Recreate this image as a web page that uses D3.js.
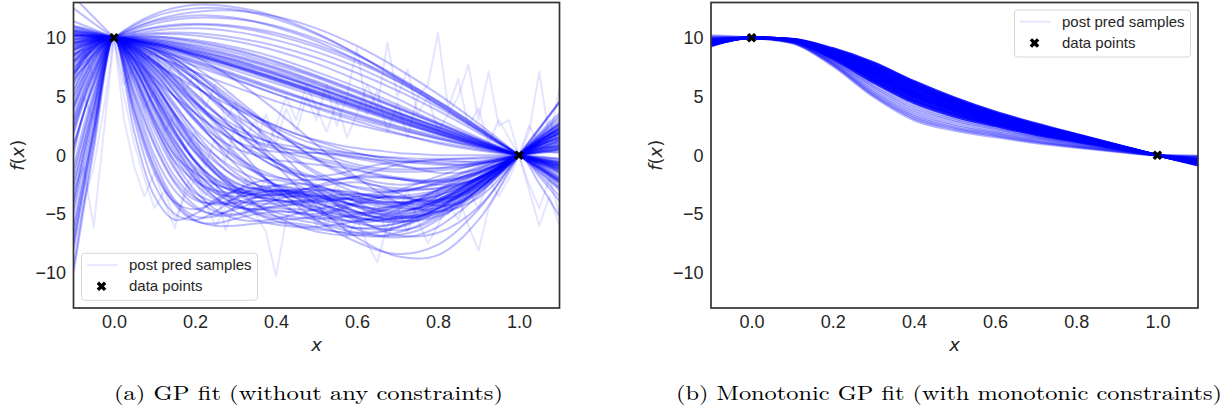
<!DOCTYPE html>
<html><head><meta charset="utf-8">
<script src="https://cdn.jsdelivr.net/npm/d3@7"></script>
<style>body{margin:0;background:#fff}svg{display:block}</style>
</head><body>
<svg id="chart" width="1230" height="419"></svg>
<script>
// ---------- data ----------
const xsCoarse = [-0.1, 0, 0.1, 0.2, 0.3, 0.4, 0.5, 0.6, 0.7, 0.8, 0.9, 1.0, 1.1];
const xsMid = [-0.1, -0.05, 0, 0.05, 0.1, 0.15, 0.2, 0.25, 0.3, 0.35, 0.4, 0.45, 0.5, 0.55, 0.6, 0.65, 0.7, 0.75, 0.8, 0.85, 0.9, 0.95, 1.0, 1.05, 1.1];
const xsFine = [-0.1, -0.075, -0.05, -0.025, 0, 0.025, 0.05, 0.075, 0.1, 0.125, 0.15, 0.175, 0.2, 0.225, 0.25, 0.275, 0.3, 0.325, 0.35, 0.375, 0.4, 0.425, 0.45, 0.475, 0.5, 0.525, 0.55, 0.575, 0.6, 0.625, 0.65, 0.675, 0.7, 0.725, 0.75, 0.775, 0.8, 0.825, 0.85, 0.875, 0.9, 0.925, 0.95, 0.975, 1.0, 1.025, 1.05, 1.075, 1.1];

const dataX = [0, 1];
const dataY = [10, 0];

// (a) unconstrained GP posterior samples — long length-scale (on xsCoarse)
const leftSmooth = [
  [10.3, 10, 9.4, 8.5, 7.5, 6.4, 5.3, 4.2, 3.1, 2.0, 1.0, 0, -0.9],
  [10.1, 10, 9.6, 8.9, 8.0, 6.9, 5.8, 4.6, 3.4, 2.2, 1.1, 0, -1.0],
  [10.5, 10, 9.3, 8.3, 7.2, 6.1, 5.0, 3.9, 2.8, 1.8, 0.9, 0, -0.8],
  [9.8, 10, 9.8, 9.3, 8.5, 7.5, 6.3, 5.0, 3.7, 2.4, 1.2, 0, -1.1],
  [10.2, 10, 9.5, 8.7, 7.7, 6.6, 5.4, 4.2, 3.0, 1.9, 0.9, 0, -0.7],
  [10.6, 10, 9.2, 8.1, 6.9, 5.7, 4.5, 3.4, 2.4, 1.5, 0.7, 0, -0.6],
  [9.6, 10, 10.0, 9.6, 8.9, 7.9, 6.7, 5.4, 4.0, 2.6, 1.3, 0, -1.2],
  [10.4, 10, 9.4, 8.6, 7.6, 6.5, 5.4, 4.3, 3.2, 2.1, 1.0, 0, -0.9],
  [10.0, 10, 9.7, 9.1, 8.3, 7.3, 6.1, 4.9, 3.6, 2.4, 1.2, 0, -1.1],
  [10.8, 10, 9.0, 7.9, 6.7, 5.5, 4.4, 3.3, 2.3, 1.4, 0.6, 0, -0.5],
  [10.2, 10, 9.5, 8.8, 7.9, 6.9, 5.7, 4.5, 3.3, 2.1, 1.0, 0, -0.9],
  [9.9, 10, 9.8, 9.2, 8.4, 7.4, 6.2, 4.9, 3.6, 2.3, 1.1, 0, -1.0],
  [10.3, 10, 9.4, 8.5, 7.5, 6.4, 5.2, 4.0, 2.9, 1.8, 0.8, 0, -0.6],
  [10.1, 10, 9.6, 8.9, 8.1, 7.1, 6.0, 4.8, 3.6, 2.4, 1.2, 0, -1.3],
  [10.7, 10, 9.1, 8.0, 6.8, 5.6, 4.5, 3.5, 2.5, 1.6, 0.8, 0, -0.7],
  [9.7, 10, 9.9, 9.4, 8.7, 7.7, 6.6, 5.3, 4.0, 2.7, 1.3, 0, -1.3],
  [10.4, 10, 9.5, 8.7, 7.8, 6.8, 5.7, 4.5, 3.3, 2.1, 1.0, 0, -0.9],
  [10.6, 10, 9.3, 8.4, 7.4, 6.3, 5.2, 4.1, 3.0, 1.9, 0.9, 0, -0.8],
  [9.9, 10, 9.7, 9.0, 8.1, 7.0, 5.8, 4.6, 3.4, 2.2, 1.1, 0, -1.1],
  [10.2, 10, 9.5, 8.6, 7.6, 6.5, 5.3, 4.1, 2.9, 1.8, 0.8, 0, -0.7],
  [9.5, 10, 10.1, 9.8, 9.2, 8.3, 7.1, 5.8, 4.3, 2.8, 1.4, 0, -1.4],
  [9.3, 10, 10.3, 10.2, 9.7, 8.9, 7.8, 6.4, 4.8, 3.1, 1.5, 0, -1.5],
  [9.6, 10, 10.1, 9.7, 9.0, 8.0, 6.8, 5.5, 4.1, 2.7, 1.3, 0, -1.2],
  [11.0, 10, 8.8, 7.6, 6.4, 5.2, 4.1, 3.1, 2.2, 1.4, 0.7, 0, -0.6],
  [11.4, 10, 8.5, 7.1, 5.8, 4.6, 3.5, 2.6, 1.8, 1.1, 0.5, 0, -0.4],
  [10.9, 10, 9.0, 7.8, 6.5, 5.2, 4.0, 2.9, 1.9, 1.0, 0.4, 0, -0.3],
  [10.3, 10, 9.4, 8.6, 7.6, 6.6, 5.5, 4.4, 3.2, 2.0, 0.9, 0, -1.6],
  [7.5, 10, 11.5, 12.2, 12.3, 11.8, 10.8, 9.3, 7.4, 5.2, 2.7, 0, -2.8],
  [8.0, 10, 11.2, 11.7, 11.6, 11.0, 9.9, 8.5, 6.7, 4.6, 2.4, 0, -2.4],
  [7.0, 10, 11.8, 12.5, 12.4, 11.6, 10.3, 8.6, 6.6, 4.5, 2.3, 0, -2.2],
  [8.6, 10, 10.8, 11.1, 10.9, 10.2, 9.2, 7.9, 6.3, 4.4, 2.2, 0, -2.0],
  [9.0, 10, 10.6, 10.8, 10.5, 9.8, 8.8, 7.5, 5.9, 4.1, 2.1, 0, -2.1],
  [6.5, 10, 12.0, 12.8, 12.6, 11.8, 10.4, 8.6, 6.5, 4.3, 2.1, 0, -2.2],
  [8.4, 10, 10.9, 11.2, 11.0, 10.4, 9.4, 8.1, 6.5, 4.6, 2.4, 0, -2.3],
  [9.2, 10, 10.4, 10.4, 10.0, 9.3, 8.3, 7.0, 5.5, 3.8, 1.9, 0, -1.8],
  [7.8, 10, 11.4, 11.9, 11.7, 10.9, 9.7, 8.1, 6.3, 4.3, 2.2, 0, -2.1],
  [8.0, 10, 8.0, 4.5, 0.8, -2.8, -5.5, -7.4, -8.4, -7.6, -4.6, 0, 3.6],
  [9.0, 10, 9.0, 6.5, 3.0, -0.8, -4.3, -7.0, -8.6, -8.5, -5.5, 0, 4.5],
  [5.0, 10, 6.0, 1.0, -2.8, -5.2, -6.5, -6.8, -6.2, -4.8, -2.6, 0, 2.2],
  [8.6, 10, 9.2, 7.0, 4.0, 0.6, -2.8, -5.4, -6.8, -6.6, -4.4, 0, 4.5],
  [6.2, 10, 7.4, 3.2, -0.8, -3.8, -5.6, -6.2, -5.8, -4.5, -2.4, 0, 2.4],
  [9.4, 10, 9.6, 8.4, 6.4, 3.8, 0.9, -1.9, -4.0, -4.8, -3.6, 0, 4.6],
  [4.0, 10, 5.0, -0.5, -4.0, -5.4, -5.2, -4.2, -3.2, -2.4, -1.4, 0, 1.6],
  [8.2, 10, 8.6, 6.0, 2.8, -0.3, -3.0, -4.8, -5.6, -5.2, -3.2, 0, 3.4],
  [13.5, 10, 6.5, 3.6, 1.2, -0.6, -1.9, -2.7, -3.0, -2.8, -2.0, 0, 2.5],
  [12.5, 10, 7.8, 5.8, 4.0, 2.5, 1.2, 0.2, -0.5, -0.8, -0.7, 0, 1.2]
];

// (a) medium length-scale samples (on xsMid)
const leftMid = [
  [4, 8, 10, 8.5, 6, 3.5, 1.5, 0, -1.2, -2, -2.5, -2.8, -3, -3.3, -3.5, -3.4, -3, -2.4, -1.8, -1.2, -0.7, -0.3, 0, 0.4, 0.9],
  [-2, 5, 10, 7, 3, 0, -1.5, -2.5, -3, -3.5, -4.2, -4.8, -5, -4.6, -4, -3.6, -3.5, -3.8, -4, -3.6, -2.8, -1.5, 0, -1.6, -3.5],
  [6, 9, 10, 9, 7.2, 5, 3, 1.2, -0.3, -1.5, -2.5, -3.3, -4, -4.6, -5, -5.3, -5.4, -5.2, -4.6, -3.6, -2.4, -1.1, 0, 0.8, 1.3],
  [1, 6, 10, 6.5, 2.5, -0.5, -2.2, -3, -3.2, -3, -2.6, -2.4, -2.6, -3.2, -4, -4.7, -5, -4.8, -4, -3, -1.8, -0.8, 0, 0.3, 0.2],
  [8, 9.6, 10, 9.2, 7.8, 6, 4, 2, 0.2, -1.3, -2.6, -3.7, -4.6, -5.3, -5.8, -6, -5.8, -5.3, -4.5, -3.5, -2.4, -1.2, 0, 1, 1.8],
  [-5, 3, 10, 5, 0, -3, -4.5, -5, -4.6, -4, -3.8, -4.1, -4.7, -5.2, -5.2, -4.8, -4.3, -4, -3.8, -3.4, -2.6, -1.4, 0, 1.4, 2.6],
  [7, 9.3, 10, 8, 5.2, 2.5, 0.3, -1.4, -2.6, -3.4, -3.8, -4, -4, -3.8, -3.5, -3.2, -3, -2.9, -2.8, -2.5, -1.9, -1, 0, 0.9, 1.5],
  [3, 7.5, 10, 8, 4.8, 1.8, -0.5, -2.1, -3, -3.4, -3.4, -3.2, -3, -3, -3.2, -3.6, -4, -4.2, -4, -3.4, -2.4, -1.2, 0, -0.9, -2.3],
  [9, 9.8, 10, 9.5, 8.6, 7.4, 6, 4.6, 3.2, 1.9, 0.6, -0.5, -1.6, -2.5, -3.2, -3.6, -3.7, -3.5, -3, -2.3, -1.5, -0.7, 0, 0.5, 0.8],
  [-8, 2, 10, 3, -2.5, -5, -5.5, -4.8, -3.6, -2.8, -2.6, -3, -3.8, -4.6, -5.2, -5.5, -5.4, -5, -4.3, -3.4, -2.4, -1.2, 0, 1.1, 1.8],
  [5, 8.6, 10, 8.8, 6.6, 4.2, 2.2, 0.6, -0.6, -1.4, -1.9, -2.1, -2.1, -2, -1.9, -1.9, -2, -2.2, -2.3, -2.1, -1.6, -0.9, 0, 0.9, 1.7],
  [2, 7, 10, 7.6, 4, 0.8, -1.6, -3.2, -4.2, -4.8, -5.2, -5.5, -5.8, -6.2, -6.6, -6.9, -7, -6.8, -6.1, -4.9, -3.4, -1.7, 0, 1.5, 2.6],
  [8.5, 9.7, 10, 9.4, 8.3, 6.9, 5.3, 3.7, 2.1, 0.7, -0.6, -1.7, -2.7, -3.6, -4.4, -5, -5.3, -5.3, -4.9, -4.1, -3, -1.6, 0, 1.6, 3],
  [-1, 5.5, 10, 6.8, 2.6, -1, -3.5, -4.8, -5, -4.5, -3.8, -3.4, -3.5, -4.1, -4.8, -5.3, -5.4, -5, -4.2, -3.2, -2.1, -1, 0, -1.2, -2.8],
  [6.5, 9.1, 10, 8.9, 6.8, 4.4, 2, 0, -1.5, -2.5, -3, -3, -2.7, -2.4, -2.3, -2.6, -3.2, -3.9, -4.3, -4.1, -3.2, -1.7, 0, 1.7, 3.2],
  [-6, 2.5, 10, 4, -1, -4, -5.5, -6, -6, -5.8, -5.7, -5.8, -6.1, -6.5, -6.8, -6.9, -6.6, -6, -5.1, -3.9, -2.6, -1.3, 0, 1.2, 2.2],
  [9.5, 10, 10, 9.7, 9.1, 8.2, 7.1, 5.9, 4.6, 3.3, 2, 0.8, -0.3, -1.2, -1.9, -2.3, -2.5, -2.4, -2.1, -1.6, -1, -0.5, 0, 0.4, 0.6],
  [4.5, 8.4, 10, 8.3, 5.6, 2.8, 0.4, -1.5, -2.7, -3.3, -3.4, -3.1, -2.6, -2.1, -1.8, -1.8, -2, -2.3, -2.5, -2.4, -1.9, -1.1, 0, 1.2, 2.3],
  [7.6, 9.5, 10, 9.1, 7.5, 5.6, 3.6, 1.7, 0, -1.4, -2.6, -3.6, -4.4, -5, -5.4, -5.5, -5.3, -4.8, -4, -3, -2, -1, 0, -0.8, -1.9],
  [0, 6.5, 10, 7.2, 3.5, 0.2, -2, -3.2, -3.5, -3.3, -3, -3, -3.3, -3.8, -4.3, -4.5, -4.3, -3.7, -2.9, -2, -1.2, -0.5, 0, 0.2, 0.3],
  [10.5, 10.3, 10, 9.2, 7.9, 6.3, 4.6, 2.9, 1.3, 0, -1, -1.6, -1.8, -1.6, -1.2, -0.8, -0.6, -0.6, -0.7, -0.8, -0.7, -0.4, 0, 0.6, 1.3],
  [11, 10.6, 10, 9.1, 8, 6.7, 5.2, 3.6, 2, 0.6, -0.6, -1.5, -2, -2.1, -1.8, -1.3, -0.8, -0.5, -0.4, -0.5, -0.6, -0.5, 0, 0.8, 1.9],
  [-4, 4, 10, 6, 1.5, -1.8, -3.6, -4.2, -4, -3.6, -3.4, -3.6, -4.1, -4.6, -4.9, -4.8, -4.4, -3.8, -3.2, -2.6, -1.9, -1, 0, 0.9, 1.4],
  [3.5, 7.8, 10, 7.8, 4.6, 1.4, -1.2, -3, -4.2, -5, -5.6, -6, -6.1, -5.9, -5.6, -5.3, -5.2, -5.1, -4.8, -4.1, -3, -1.6, 0, 1.3, 2.2],
  [7.2, 9.4, 10, 8.6, 6.2, 3.4, 0.8, -1.2, -2.4, -2.9, -3, -2.9, -2.9, -3.1, -3.5, -4, -4.3, -4.3, -3.9, -3.1, -2.1, -1, 0, 0.6, 0.7],
  [-7, 2, 10, 4.5, -0.5, -3.8, -5.2, -5.2, -4.4, -3.6, -3.2, -3.4, -4, -4.8, -5.6, -6.2, -6.4, -6.1, -5.3, -4.2, -2.9, -1.5, 0, 1.3, 2],
  [9.2, 9.9, 10, 9.6, 8.9, 7.9, 6.7, 5.3, 3.9, 2.4, 1, -0.3, -1.4, -2.2, -2.8, -3.1, -3.1, -2.8, -2.3, -1.7, -1.1, -0.5, 0, 0.3, 0.4],
  [2.5, 7.2, 10, 8.2, 5.2, 2.1, -0.4, -2.2, -3.2, -3.6, -3.6, -3.5, -3.6, -3.9, -4.4, -4.9, -5.2, -5.2, -4.8, -4, -2.9, -1.5, 0, 1.5, 2.8],
  [5.5, 8.8, 10, 8.6, 6.1, 3.3, 0.8, -1.1, -2.3, -2.9, -3.1, -3.2, -3.4, -3.8, -4.3, -4.7, -4.8, -4.5, -3.8, -2.9, -1.9, -0.9, 0, 0.7, 1.1],
  [-3, 4.5, 10, 6.2, 2.1, -1.2, -3.2, -4, -4.1, -3.9, -3.9, -4.2, -4.8, -5.6, -6.3, -6.8, -6.8, -6.4, -5.5, -4.3, -2.9, -1.4, 0, -1, -2.6],
  [8.8, 9.7, 10, 9.3, 8.1, 6.5, 4.7, 2.9, 1.3, 0, -1, -1.8, -2.5, -3.1, -3.6, -3.9, -4, -3.8, -3.4, -2.8, -2, -1, 0, 1, 1.9],
  [6.8, 9.2, 10, 8.7, 6.5, 4, 1.6, -0.4, -1.9, -2.8, -3.3, -3.5, -3.5, -3.4, -3.3, -3.4, -3.6, -3.8, -3.8, -3.4, -2.6, -1.4, 0, 1.4, 2.7],
  [0.5, 6.2, 10, 7.4, 3.8, 0.5, -2, -3.6, -4.4, -4.6, -4.4, -4.1, -3.8, -3.7, -3.8, -4.1, -4.4, -4.6, -4.5, -3.9, -2.8, -1.5, 0, -0.4, -1.5],
  [9.8, 10.1, 10, 9.8, 9.3, 8.5, 7.5, 6.3, 4.9, 3.5, 2.1, 0.8, -0.4, -1.4, -2.1, -2.6, -2.8, -2.8, -2.5, -2, -1.4, -0.7, 0, 0.6, 1],
  [-9.5, 1, 10, 3.5, -1.5, -4, -4.6, -4, -3, -2.3, -2.1, -2.5, -3.3, -4.2, -4.9, -5.2, -5, -4.4, -3.5, -2.5, -1.6, -0.8, 0, 0.6, 0.8],
  [4.2, 8.2, 10, 8.4, 5.8, 3.1, 0.6, -1.5, -3.1, -4.2, -4.9, -5.3, -5.4, -5.3, -5, -4.6, -4.2, -3.8, -3.4, -2.9, -2.1, -1.1, 0, 1.2, 2.4],
  [9.6, 10, 10, 9.4, 8.4, 7.2, 5.9, 4.6, 3.4, 2.4, 1.6, 1, 0.5, 0.1, -0.2, -0.4, -0.5, -0.5, -0.4, -0.3, -0.2, -0.1, 0, 0.2, 0.5],
  [8.4, 9.6, 10, 9, 7.5, 5.8, 4.2, 2.9, 1.9, 1.2, 0.7, 0.4, 0.2, 0, -0.3, -0.6, -0.9, -1.1, -1.1, -1, -0.8, -0.4, 0, 0.5, 1],
  [9.1, 9.8, 10, 9.3, 8, 6.5, 5, 3.6, 2.5, 1.6, 0.9, 0.3, -0.2, -0.6, -1, -1.3, -1.4, -1.4, -1.3, -1.1, -0.8, -0.4, 0, 0.4, 0.7],
  [7.9, 9.5, 10, 9.2, 7.8, 6.1, 4.5, 3.2, 2.2, 1.5, 1, 0.7, 0.5, 0.3, 0.1, -0.1, -0.3, -0.5, -0.6, -0.6, -0.5, -0.3, 0, 0.3, 0.5],
  [10.2, 10.2, 10, 9.6, 9, 8.1, 7, 5.7, 4.4, 3.3, 2.3, 1.5, 0.9, 0.4, 0.1, -0.1, -0.2, -0.3, -0.3, -0.3, -0.3, -0.2, 0, 0.3, 0.6],
  [6.8, 9.1, 10, 8.8, 7, 5, 3.1, 1.6, 0.6, 0, -0.4, -0.6, -0.8, -1, -1.3, -1.7, -2, -2.2, -2.2, -2, -1.5, -0.8, 0, 0.8, 1.4],
  [9.4, 9.9, 10, 9.5, 8.7, 7.7, 6.5, 5.3, 4.1, 3, 2, 1.1, 0.3, -0.3, -0.8, -1.1, -1.2, -1.2, -1.1, -0.9, -0.6, -0.3, 0, 0.3, 0.5],
  [8.9, 9.7, 10, 9.1, 7.7, 6, 4.4, 3, 1.9, 1.1, 0.5, 0, -0.4, -0.8, -1.2, -1.6, -1.9, -2.1, -2.1, -1.9, -1.4, -0.8, 0, -0.9, -2],
  [10.6, 10.4, 10, 9.4, 8.6, 7.6, 6.5, 5.4, 4.3, 3.3, 2.5, 1.8, 1.3, 0.9, 0.6, 0.4, 0.2, 0.1, 0, 0, 0, 0, 0, -0.1, -0.3],
  [7.3, 9.3, 10, 9, 7.3, 5.4, 3.6, 2.2, 1.2, 0.6, 0.3, 0.2, 0.2, 0.1, -0.1, -0.4, -0.8, -1.2, -1.5, -1.5, -1.2, -0.7, 0, 0.8, 1.5],
  [-10, 0.5, 10, 2, -3.5, -5.5, -5, -3.8, -3, -2.8, -3.2, -4, -4.8, -5.4, -5.6, -5.3, -4.6, -3.8, -3, -2.2, -1.5, -0.8, 0, 0.7, 1.2],
  [-4.5, 3.5, 10, 5.5, 1, -2.2, -3.8, -4.1, -3.7, -3.2, -3, -3.2, -3.7, -4.3, -4.8, -5, -4.9, -4.5, -3.8, -3, -2.1, -1.1, 0, 1, 1.9],
  [2.5, 7, 10, 7.5, 4, 0.8, -1.8, -3.6, -4.8, -5.5, -5.9, -6.1, -6.3, -6.5, -6.6, -6.5, -6.1, -5.4, -4.5, -3.4, -2.3, -1.1, 0, 1, 2],
  [-1.5, 5, 10, 6.6, 2.8, -0.6, -3, -4.6, -5.4, -5.6, -5.4, -5, -4.6, -4.3, -4.1, -4, -4, -3.9, -3.6, -3.1, -2.3, -1.2, 0, -1.8, -3.9],
  [-7.5, 1.5, 10, 3.8, -1.2, -4.2, -5.6, -5.8, -5.4, -5, -4.8, -4.9, -5.2, -5.5, -5.7, -5.6, -5.2, -4.6, -3.8, -2.9, -1.9, -0.9, 0, 0.5, 0.6],
  [1.8, 6.8, 10, 7.6, 4.2, 1.1, -1.3, -2.9, -3.8, -4.1, -4.1, -3.9, -3.7, -3.6, -3.7, -3.9, -4.1, -4.1, -3.8, -3.2, -2.3, -1.2, 0, -2.4, -5.2],
  [8.5, 9.6, 10, 8.2, 5.5, 2.6, 0.2, -1.6, -2.8, -3.5, -3.8, -3.9, -3.9, -3.8, -3.7, -3.6, -3.5, -3.3, -3, -2.6, -1.9, -1, 0, 1, 2],
  [7, 9.1, 10, 8.9, 7, 4.9, 2.9, 1.2, -0.1, -1.1, -1.8, -2.3, -2.7, -3, -3.3, -3.5, -3.6, -3.5, -3.2, -2.7, -2, -1.1, 0, 1.1, 2.1],
  [5.5, 8.6, 10, 8.1, 5.1, 2, -0.6, -2.5, -3.7, -4.3, -4.5, -4.6, -4.7, -5, -5.3, -5.6, -5.7, -5.5, -5, -4.1, -2.9, -1.5, 0, 1.4, 2.7],
  [3, 7.4, 10, 8.7, 6.3, 3.6, 1.2, -0.6, -1.8, -2.5, -2.9, -3.2, -3.5, -3.9, -4.3, -4.6, -4.7, -4.5, -4, -3.2, -2.2, -1.1, 0, -1.4, -3],
  [0.8, 6, 10, 7.9, 4.8, 1.8, -0.5, -2, -2.8, -3.1, -3.1, -3.1, -3.2, -3.5, -3.9, -4.3, -4.5, -4.5, -4.2, -3.6, -2.7, -1.4, 0, 1.3, 2.3],
  [-2.5, 4.2, 10, 6.8, 3.1, -0.1, -2.4, -3.8, -4.4, -4.6, -4.7, -4.9, -5.3, -5.8, -6.2, -6.3, -6.1, -5.5, -4.6, -3.6, -2.5, -1.3, 0, 1.1, 1.9],
  [-3.8, 3.8, 10, 7.4, 4.2, 1.2, -1, -2.4, -3.1, -3.3, -3.3, -3.3, -3.4, -3.6, -3.9, -4.1, -4.1, -3.9, -3.4, -2.8, -2, -1, 0, 0.9, 1.6],
  [-6.5, 2.2, 10, 5.2, 0.8, -2.4, -4.3, -5.1, -5.1, -4.7, -4.3, -4.2, -4.4, -4.8, -5.3, -5.6, -5.6, -5.2, -4.4, -3.4, -2.3, -1.2, 0, 1.2, 2.2]
];

// (a) short length-scale, jagged samples (on xsFine)
const leftSpiky = [
  [2, 5, 3, 7, 10, 6, 7.5, 4, 5.5, 2, 3.5, 0.5, 2, -1, 1.5, -0.5, 2.5, 0, 1, 3.5, 1, 4, 2, 5, 3, 6, 2.5, 5, 9.2, 3.5, 5.5, 2, 4.5, 1.5, 5, 6, 10.4, 4, 6.5, 2.5, 4, 1, 3, 1.5, 0, 2.5, 1, 3, 0.5],
  [6, 9, 6.5, 8.5, 10, 8.5, 10.5, 8, 9, 6.5, 8, 5.5, 7, 4, 6, 3, 4.5, 1.5, 3, 0.5, 2.5, 5, 3, 6, 4, 2, 4.5, 1.5, 3.5, 6, 4, 9.6, 5, 7.3, 3.5, 5, 2, 3.5, 5, 7.7, 3, 7.1, 2.5, 3, 0, 2, 7.1, 1.5, 5.7],
  [-3, -1, -6.1, 2, 10, 3, -1, -3.5, -1.5, -4, -6.2, -3, -1, -3.5, -2, -6.4, -4, -2, -5, -6.5, -10.3, -5.5, -3, -5, -3.5, -6, -4, -7, -5.5, -7.5, -9.1, -6, -4.5, -6.5, -4, -5.5, -3, -5, -3.5, -6, -8.1, -4.5, -3, -1.5, 0, -2.5, -4.5, -2, -5],
  [-8, -4, -1, 4, 10, 5, 1, -2, -4.5, -3, -5.5, -3.5, -2, -4, -6, -4.5, -3, -5, -3.5, -2, -4, -2.5, -5, -3.5, -6, -4, -2.5, -4.5, -3, -5.5, -4, -7, -5, -3, -5.5, -7.5, -6, -4, -5.5, -3, -4.5, -2, -3.5, -2, 0, -3, -6, -3.5, -6]
];

// (b) monotonic GP posterior samples (on xsCoarse): main band
const rightSamples = [
  [9.3, 10, 9.9, 9.1, 7.9, 6.3, 4.9, 3.7, 2.7, 1.8, 0.9, 0, -0.85],
  [9.35, 10, 9.88, 9.0, 7.8, 6.2, 4.8, 3.6, 2.6, 1.75, 0.88, 0, -0.8],
  [9.38, 10, 9.87, 8.98, 7.7, 6.1, 4.72, 3.55, 2.58, 1.72, 0.86, 0, -0.77],
  [9.4, 10, 9.86, 8.95, 7.6, 6.0, 4.65, 3.5, 2.55, 1.7, 0.85, 0, -0.75],
  [9.42, 10, 9.86, 8.9, 7.5, 5.92, 4.58, 3.45, 2.5, 1.68, 0.84, 0, -0.72],
  [9.45, 10, 9.85, 8.85, 7.45, 5.85, 4.5, 3.4, 2.45, 1.65, 0.82, 0, -0.7],
  [9.48, 10, 9.84, 8.82, 7.38, 5.78, 4.45, 3.35, 2.42, 1.62, 0.81, 0, -0.68],
  [9.5, 10, 9.83, 8.8, 7.3, 5.7, 4.4, 3.3, 2.4, 1.6, 0.8, 0, -0.66],
  [9.52, 10, 9.83, 8.75, 7.22, 5.6, 4.32, 3.25, 2.35, 1.57, 0.79, 0, -0.64],
  [9.55, 10, 9.82, 8.7, 7.15, 5.5, 4.25, 3.2, 2.3, 1.55, 0.78, 0, -0.62],
  [9.58, 10, 9.81, 8.65, 7.08, 5.42, 4.18, 3.15, 2.25, 1.5, 0.76, 0, -0.6],
  [9.6, 10, 9.8, 8.6, 7.0, 5.35, 4.1, 3.1, 2.2, 1.48, 0.75, 0, -0.58],
  [9.62, 10, 9.79, 8.62, 6.95, 5.3, 4.05, 3.05, 2.2, 1.45, 0.72, 0, -0.55],
  [9.64, 10, 9.78, 8.55, 6.92, 5.22, 3.98, 3.0, 2.15, 1.43, 0.71, 0, -0.53],
  [9.65, 10, 9.78, 8.5, 6.85, 5.15, 3.9, 2.95, 2.1, 1.4, 0.7, 0, -0.52],
  [9.68, 10, 9.77, 8.48, 6.78, 5.08, 3.85, 2.9, 2.05, 1.38, 0.69, 0, -0.5],
  [9.7, 10, 9.76, 8.45, 6.7, 5.0, 3.8, 2.85, 2.0, 1.35, 0.68, 0, -0.48],
  [9.72, 10, 9.75, 8.4, 6.6, 4.95, 3.75, 2.8, 2.0, 1.33, 0.66, 0, -0.45],
  [9.75, 10, 9.74, 8.35, 6.5, 4.8, 3.6, 2.7, 1.9, 1.28, 0.63, 0, -0.42],
  [9.78, 10, 9.73, 8.32, 6.42, 4.7, 3.52, 2.65, 1.88, 1.25, 0.62, 0, -0.4],
  [9.8, 10, 9.72, 8.3, 6.35, 4.6, 3.45, 2.6, 1.85, 1.22, 0.6, 0, -0.38],
  [9.83, 10, 9.7, 8.2, 6.2, 4.45, 3.3, 2.5, 1.75, 1.15, 0.57, 0, -0.35]
];
// (b) fewer, lower samples (lighter edge of the band)
const rightLower = [
  [9.86, 10, 9.69, 8.1, 6.0, 4.25, 3.15, 2.35, 1.65, 1.08, 0.54, 0, -0.3],
  [9.9, 10, 9.67, 8.05, 5.85, 4.05, 3.0, 2.25, 1.58, 1.02, 0.5, 0, -0.27],
  [9.93, 10, 9.65, 7.95, 5.7, 3.85, 2.85, 2.1, 1.5, 0.95, 0.47, 0, -0.23],
  [9.96, 10, 9.63, 7.9, 5.5, 3.65, 2.65, 1.95, 1.4, 0.88, 0.43, 0, -0.2],
  [10.0, 10, 9.62, 7.8, 5.35, 3.45, 2.5, 1.85, 1.3, 0.8, 0.4, 0, -0.16],
  [10.05, 10, 9.6, 7.75, 5.2, 3.3, 2.35, 1.75, 1.2, 0.75, 0.36, 0, -0.12],
  [10.1, 10, 9.58, 7.7, 5.1, 3.15, 2.25, 1.65, 1.12, 0.7, 0.33, 0, -0.09],
  [10.2, 10, 9.55, 7.6, 5.0, 3.0, 2.1, 1.55, 1.05, 0.65, 0.3, 0, -0.05]
];

const xTicks = [0, 0.2, 0.4, 0.6, 0.8, 1.0];
const xTickLabels = ["0.0", "0.2", "0.4", "0.6", "0.8", "1.0"];
const yTicks = [-10, -5, 0, 5, 10];
const yTickLabels = ["\u221210", "\u22125", "0", "5", "10"];
const legendLabels = ["post pred samples", "data points"];
const captions = ["(a) GP fit (without any constraints)", "(b) Monotonic GP fit (with monotonic constraints)"];

// ---------- drawing ----------
const svg = d3.select("#chart");
const FONT = "'Liberation Sans', Arial, Helvetica, sans-serif";
const TXT = "#262626";
const Y_TOP = 2.5, Y_BOT = 308;

function drawPanel(cfg) {
  const x = d3.scaleLinear().domain([-0.1, 1.1]).range([cfg.left, cfg.right]);
  const y = d3.scaleLinear().domain([-13, 13]).range([Y_BOT, Y_TOP]);
  const g = svg.append("g");
  const clipId = "clip" + cfg.id;
  g.append("clipPath").attr("id", clipId).append("rect")
    .attr("x", cfg.left).attr("y", Y_TOP).attr("width", cfg.right - cfg.left).attr("height", Y_BOT - Y_TOP);
  const lines = g.append("g").attr("clip-path", `url(#${clipId})`);

  cfg.groups.forEach(grp => {
    const gen = d3.line().x(d => x(d[0])).y(d => y(d[1])).curve(grp.curve);
    lines.append("g").selectAll("path").data(grp.series).join("path")
      .attr("d", s => gen(s.map((v, i) => [grp.xs[i], v])))
      .attr("fill", "none").attr("stroke", "#0000ff")
      .attr("stroke-opacity", grp.opacity).attr("stroke-width", grp.width)
      .attr("stroke-linejoin", "round");
  });

  // axes (no tick marks)
  const ax = g.append("g").attr("transform", `translate(0,${Y_BOT})`)
    .call(d3.axisBottom(x).tickValues(xTicks).tickFormat((d, i) => xTickLabels[i]).tickSize(0).tickPadding(7.5));
  const ay = g.append("g").attr("transform", `translate(${cfg.left},0)`)
    .call(d3.axisLeft(y).tickValues(yTicks).tickFormat((d, i) => yTickLabels[i]).tickSize(0).tickPadding(7.5));
  [ax, ay].forEach(a => {
    a.select(".domain").remove();
    a.selectAll("text").attr("font-family", FONT).attr("font-size", 18).attr("fill", TXT);
  });

  // frame
  g.append("rect").attr("x", cfg.left).attr("y", Y_TOP)
    .attr("width", cfg.right - cfg.left).attr("height", Y_BOT - Y_TOP)
    .attr("fill", "none").attr("stroke", "#333").attr("stroke-width", 1.7);

  // data points
  const sym = d3.symbol().type(d3.symbolCross).size(58);
  g.append("g").selectAll("path").data(dataX).join("path")
    .attr("d", sym)
    .attr("transform", (d, i) => `translate(${x(d)},${y(dataY[i])}) rotate(45)`)
    .attr("fill", "#000");

  // axis labels
  g.append("text").attr("x", (cfg.left + cfg.right) / 2).attr("y", 351)
    .attr("text-anchor", "middle").attr("font-family", "'DejaVu Sans', sans-serif")
    .attr("font-size", 18).attr("font-style", "italic").attr("fill", TXT).text("x");
  const yl = g.append("text").attr("transform", `translate(${cfg.ylabX},${(Y_TOP + Y_BOT) / 2}) rotate(-90)`)
    .attr("text-anchor", "middle").attr("font-family", "'DejaVu Sans', sans-serif")
    .attr("font-size", 18).attr("fill", TXT);
  yl.append("tspan").attr("font-style", "italic").text("f");
  yl.append("tspan").text("(");
  yl.append("tspan").attr("font-style", "italic").text("x");
  yl.append("tspan").text(")");

  // legend
  const L = cfg.legend;
  const lg = g.append("g");
  lg.append("rect").attr("x", L.x).attr("y", L.y).attr("width", 176).attr("height", 47)
    .attr("rx", 3).attr("fill", "#fff").attr("fill-opacity", 0.8)
    .attr("stroke", "#d6d6d6").attr("stroke-width", 1);
  lg.append("line").attr("x1", L.x + 5.5).attr("x2", L.x + 36.5)
    .attr("y1", L.y + 11.7).attr("y2", L.y + 11.7)
    .attr("stroke", "#0000ff").attr("stroke-opacity", 0.09).attr("stroke-width", 2.2);
  lg.append("path").attr("d", sym)
    .attr("transform", `translate(${L.x + 20},${L.y + 33}) rotate(45)`).attr("fill", "#000");
  legendLabels.forEach((t, i) => {
    lg.append("text").attr("x", L.x + 47.5).attr("y", L.y + 11.7 + i * 21)
      .attr("dy", "0.35em").attr("font-family", FONT).attr("font-size", 15)
      .attr("fill", TXT).text(t);
  });
}

drawPanel({
  id: "a", left: 73.5, right: 559.5, ylabX: 24,
  legend: { x: 81.5, y: 253.3 },
  groups: [
    { xs: xsFine, series: leftSpiky, curve: d3.curveLinear, opacity: 0.1, width: 2 },
    { xs: xsMid, series: leftMid, curve: d3.curveCatmullRom.alpha(0.5), opacity: 0.26, width: 2 },
    { xs: xsCoarse, series: leftSmooth, curve: d3.curveCatmullRom.alpha(0.5), opacity: 0.26, width: 2 }
  ]
});

drawPanel({
  id: "b", left: 711, right: 1198, ylabX: 662,
  legend: { x: 1014.5, y: 10 },
  groups: [
    { xs: xsCoarse, series: rightLower, curve: d3.curveMonotoneX, opacity: 0.3, width: 2.5 },
    { xs: xsCoarse, series: rightSamples, curve: d3.curveMonotoneX, opacity: 0.85, width: 2.5 }
  ]
});

// captions
const capG = svg.append("g").attr("font-family", "'Latin Modern Roman','CMU Serif','Liberation Serif','Times New Roman',serif")
  .attr("font-size", 20).attr("fill", "#000");
capG.append("text").attr("x", 114).attr("y", 400).attr("textLength", 389)
  .attr("lengthAdjust", "spacingAndGlyphs").text(captions[0]);
capG.append("text").attr("x", 676).attr("y", 400).attr("textLength", 546)
  .attr("lengthAdjust", "spacingAndGlyphs").text(captions[1]);
</script>
</body></html>
